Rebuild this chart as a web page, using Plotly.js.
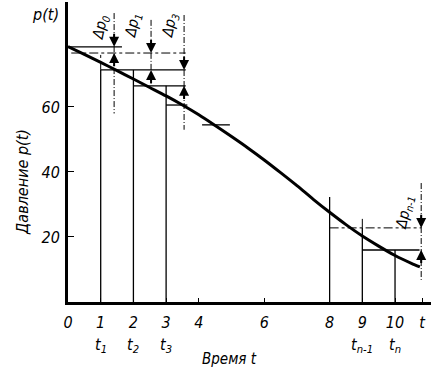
<!DOCTYPE html>
<html><head><meta charset="utf-8">
<script src="https://cdn.plot.ly/plotly-3.0.1.min.js"></script>
<style>html,body{margin:0;padding:0;background:#fff}#c{width:433px;height:376px}</style>
</head><body><div id="c"></div>
<script>
// Pressure curve p(t)
const curveT = [0, 0.5, 1, 1.5, 2, 2.5, 3, 3.5, 4, 4.5, 5, 5.5, 6, 6.5, 7, 7.5, 8, 8.5, 9, 9.5, 10, 10.5, 10.76];
const curveP = [78.6, 76.2, 73.7, 71.2, 68.6, 66.0, 63.4, 60.6, 57.6, 54.3, 50.9, 47.4, 43.7, 39.8, 35.8, 31.6, 27.6, 23.8, 20.3, 17.2, 14.3, 11.9, 10.8];

// axis ticks
const xTickVals = [0, 1, 2, 3, 4, 6, 8, 9, 10, 10.83];
const xTickText = ['0', '1', '2', '3', '4', '6', '8', '9', '10', 't'];
const yTickVals = [20, 40, 60];
const yTickText = ['20', '40', '60'];
const subT = [1, 2, 3, 9, 10];
const subText = ['t<sub>1</sub>', 't<sub>2</sub>', 't<sub>3</sub>', 't<sub>n-1</sub>', 't<sub>n</sub>'];

// step construction: vertical lines at t_i
const stepT = [1, 2, 3, 8, 9, 10];
const stepP = [71.4, 71.4, 66.5, 32.3, 22.8, 16.0];
const stepDashTop = [76.6, null, null, null, 25.8, null];

// horizontal levels
const levelP  = [78.5, 76.6, 71.4, 66.5, 60.6, 54.5, 22.8, 16.0];
const levelT0 = [0, 0.1, 1, 2, 3, 4.1, 8, 9];
const levelT1 = [1.65, 3.6, 3.6, 3.6, 3.65, 4.95, 10.8, 10.75];
const levelDash = [false, true, false, false, false, false, true, false];

// Δp markers
const deltaT = [1.41, 2.54, 3.55, 10.8];
const deltaUpper = [78.5, 76.6, 71.4, 22.8];
const deltaLower = [76.6, 71.4, 66.5, 16.0];
const deltaTop = [88.9, 86.8, 88.3, 36.6];
const deltaBottom = [58.0, 66.8, 53.0, 6.8];
const deltaLabel = ['Δp<sub>0</sub>', 'Δp<sub>1</sub>', 'Δp<sub>3</sub>', 'Δp<sub>n-1</sub>'];

const FONT = 'Liberation Sans Narrow, DejaVu Sans Condensed, Arial Narrow, sans-serif';
const black = '#000';

const solidX = [], solidY = [], dashX = [], dashY = [];
stepT.forEach((t, i) => {
  solidX.push(t, t, null); solidY.push(0, stepP[i], null);
  if (stepDashTop[i] !== null) { dashX.push(t, t, null); dashY.push(stepP[i], stepDashTop[i], null); }
});
levelP.forEach((p, i) => {
  const X = levelDash[i] ? dashX : solidX, Y = levelDash[i] ? dashY : solidY;
  X.push(levelT0[i], levelT1[i], null); Y.push(p, p, null);
});
const dX = [], dY = [];
deltaT.forEach((t, i) => { dX.push(t, t, null); dY.push(deltaTop[i], deltaBottom[i], null); });

const traces = [
  {x: solidX, y: solidY, mode: 'lines', line: {color: black, width: 1.3}, hoverinfo: 'skip'},
  {x: dashX, y: dashY, mode: 'lines', line: {color: black, width: 1, dash: 'dashdot'}, hoverinfo: 'skip'},
  {x: dX, y: dY, mode: 'lines', line: {color: black, width: 1, dash: '6px,2px,1px,2px'}, hoverinfo: 'skip'},
  {x: curveT, y: curveP, mode: 'lines', line: {color: black, width: 3, shape: 'spline', smoothing: 0.8}, hoverinfo: 'skip'}
];

const ann = [];
deltaT.forEach((t, i) => {
  ann.push({x: t, y: deltaUpper[i], ax: t, ay: deltaUpper[i] + 4.5, xref: 'x', yref: 'y', axref: 'x', ayref: 'y',
    text: '', showarrow: true, arrowhead: 2, arrowsize: 1, arrowwidth: 2, arrowcolor: black, standoff: 0});
  ann.push({x: t, y: deltaLower[i], ax: t, ay: deltaLower[i] - 4.5, xref: 'x', yref: 'y', axref: 'x', ayref: 'y',
    text: '', showarrow: true, arrowhead: 2, arrowsize: 1, arrowwidth: 2, arrowcolor: black, standoff: 0});
});
const labOff = [-0.42, -0.55, -0.43, -0.5];
const labY = [84.5, 85, 85, 27.5];
deltaLabel.forEach((s, i) => {
  ann.push({x: deltaT[i] + labOff[i], y: labY[i], xref: 'x', yref: 'y', text: s, showarrow: false, textangle: -78,
    xanchor: 'center', yanchor: 'middle',
    font: {family: FONT, size: 15, color: black, style: 'italic'}});
});
subT.forEach((t, i) => {
  ann.push({x: t, y: -0.145, xref: 'x', yref: 'paper', text: subText[i], showarrow: false,
    xanchor: 'center', yanchor: 'middle',
    font: {family: FONT, size: 16, color: black, style: 'italic'}});
});
ann.push({x: 4.95, y: -0.19, xref: 'x', yref: 'paper', text: 'Время t', showarrow: false,
  xanchor: 'center', yanchor: 'middle',
  font: {family: FONT, size: 15, color: black, style: 'italic'}});
ann.push({x: -0.127, y: 0.40, xref: 'paper', yref: 'paper', text: 'Давление p(t)', showarrow: false, textangle: -90,
  xanchor: 'center', yanchor: 'middle',
  font: {family: FONT, size: 16, color: black, style: 'italic'}});
ann.push({x: -0.063, y: 0.96, xref: 'paper', yref: 'paper', text: 'p(t)', showarrow: false,
  xanchor: 'center', yanchor: 'middle',
  font: {family: FONT, size: 16, color: black, style: 'italic'}});

const layout = {
  width: 433, height: 376,
  margin: {l: 68, r: 2, t: 2, b: 74},
  paper_bgcolor: '#fff', plot_bgcolor: '#fff',
  showlegend: false, hovermode: false,
  xaxis: {range: [0, 11.1], tickmode: 'array', tickvals: xTickVals, ticktext: xTickText,
    ticks: 'inside', ticklen: 4, tickwidth: 1, tickcolor: black, showgrid: false, zeroline: false,
    showline: true, linewidth: 2.5, linecolor: black, ticklabelstandoff: 4,
    tickfont: {family: FONT, size: 16, color: black, style: 'italic'}},
  yaxis: {range: [0, 92.3], tickmode: 'array', tickvals: yTickVals, ticktext: yTickText,
    ticks: 'inside', ticklen: 6, tickwidth: 1, tickcolor: black, showgrid: false, zeroline: false,
    showline: true, linewidth: 3, linecolor: black, ticklabelstandoff: 2,
    tickfont: {family: FONT, size: 16, color: black, style: 'italic'}},
  annotations: ann
};
Plotly.newPlot('c', traces, layout, {staticPlot: true, displayModeBar: false});
</script></body></html>
